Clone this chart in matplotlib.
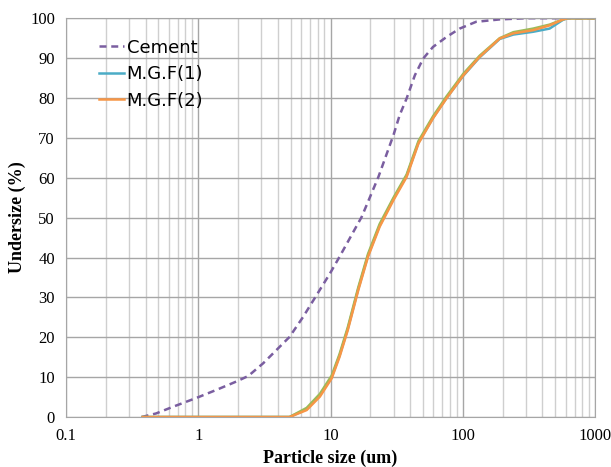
import matplotlib.pyplot as plt
from matplotlib.ticker import LogLocator, FixedLocator, NullFormatter, FuncFormatter

# cumulative undersize (%)
cement_x = [0.373, 0.48, 0.647, 0.97, 1.37, 1.94, 2.39, 3.1, 3.9, 4.9, 6.2, 7.85, 9.9, 11.7,
            17.2, 23.0, 29.9, 33.3, 37.6, 43.4, 50.2, 59.5, 75.3, 94.7, 126, 190, 300, 1000]
cement_y = [0, 0.9, 2.6, 4.8, 6.8, 8.9, 10.3, 13.5, 16.8, 20.1, 25.1, 30.6, 36, 40.2,
            50.2, 60.2, 70.7, 75.7, 79.9, 85.7, 89.9, 92.8, 95.3, 97.4, 99.1, 99.7, 100, 100]

mgf_x = [0.38, 1, 3, 4.9, 6.6, 8.3, 10.2, 11.7, 13.5, 16.2, 19.2, 23.5, 29.9, 37.6,
         46.2, 59.5, 75.3, 101, 134, 190, 241, 340, 453, 572, 620, 1000]
mgf1_y = [0, 0, 0, 0, 2.0, 5.4, 10.0, 15.4, 22.1, 32.1, 40.5, 48.0, 54.7, 60.5,
          68.8, 75.0, 80.0, 85.6, 90.2, 94.8, 95.9, 96.6, 97.4, 99.6, 100, 100]
mgf2_y = [0, 0, 0, 0, 1.75, 5.1, 9.7, 15.1, 21.8, 31.8, 40.2, 47.7, 54.4, 60.2,
          68.6, 74.9, 79.9, 85.7, 90.3, 94.9, 96.2, 97.0, 98.2, 99.7, 100, 100]
mgf3_y = [0, 0, 0, 0, 2.3, 5.8, 10.4, 15.8, 22.5, 32.5, 40.9, 48.4, 55.0, 60.8,
          69.2, 75.4, 80.4, 86.1, 90.6, 95.0, 96.5, 97.4, 98.4, 99.7, 100, 100]

fig = plt.figure(figsize=(6.11, 4.67), dpi=100)
ax = fig.add_axes([0.108, 0.107, 0.866, 0.854])

ax.plot(cement_x, cement_y, color="#7a5ea0", lw=1.8, ls=(0, (2.8, 1.9)), label="Cement")
ax.plot(mgf_x, mgf1_y, color="#4bacc6", lw=1.8, label="M.G.F(1)")
ax.plot(mgf_x, mgf3_y, color="#9bbb59", lw=1.8)
ax.plot(mgf_x, mgf2_y, color="#f79646", lw=1.8, label="M.G.F(2)")

ax.set_xscale("log")
ax.set_xlim(0.1, 1000)
ax.set_ylim(0, 100)
ax.xaxis.set_major_locator(FixedLocator([0.1, 1, 10, 100, 1000]))
ax.xaxis.set_major_formatter(FuncFormatter(lambda v, p: "%g" % v))
ax.xaxis.set_minor_locator(LogLocator(base=10, subs=range(2, 10)))
ax.xaxis.set_minor_formatter(NullFormatter())
ax.set_yticks(range(0, 101, 10))

ax.grid(True, which="major", color="#a6a6a6", lw=1.0)
ax.grid(True, which="minor", axis="x", color="#cfcfcf", lw=1.0)
ax.set_axisbelow(True)
for s in ax.spines.values():
    s.set_color("#a6a6a6")

ax.tick_params(which="both", length=0, pad=8)
for lab in ax.get_xticklabels() + ax.get_yticklabels():
    lab.set_fontfamily("Liberation Serif")
    lab.set_fontsize(12)

ax.set_xlabel("Particle size (um)", fontfamily="Liberation Serif", fontweight="bold", fontsize=13, va="center")
ax.set_ylabel("Undersize (%)", fontfamily="Liberation Serif", fontweight="bold", fontsize=13, va="center")
ax.xaxis.set_label_coords(0.5, -0.103)
ax.yaxis.set_label_coords(-0.091, 0.5)

ax.legend(loc="upper left", bbox_to_anchor=(0.048, 0.967), frameon=False,
          prop={"family": "DejaVu Sans", "size": 13}, handlelength=1.4,
          handletextpad=0.15, labelspacing=0.47, borderaxespad=0)

plt.savefig("out.png", dpi=100)
